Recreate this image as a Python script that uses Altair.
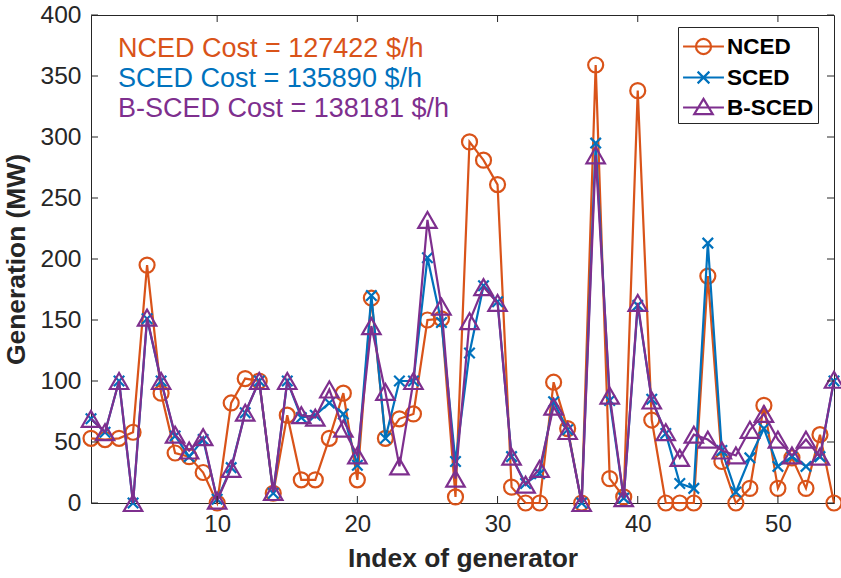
import altair as alt
import pandas as pd

# Generator dispatch (MW) for the three dispatch models, generators 1..54
names = ["NCED", "SCED", "B-SCED"]
colors = ["#D95319", "#0072BD", "#7E2F8E"]
costs = [127422, 135890, 138181]

nced = [53, 52, 53, 58, 195, 90, 41, 38, 25, 0, 82, 102, 100, 8, 72, 19, 19, 53,
        90, 19, 168, 53, 69, 73, 150, 151, 5, 296, 281, 261, 13, 0, 0, 99, 61, 0,
        359, 20, 5, 338, 68, 0, 0, 0, 186, 34, 0, 12, 80, 12, 37, 12, 56, 0]
sced = [69, 58, 100, 0, 151, 100, 55, 38, 52, 3, 29, 74, 100, 8, 100, 70, 72, 82,
        73, 31, 170, 53, 100, 100, 201, 148, 34, 123, 178, 165, 38, 16, 24, 83, 60, 0,
        295, 84, 4, 162, 85, 57, 16, 12, 213, 43, 9, 37, 61, 30, 38, 30, 38, 100]
bsced = [69, 58, 100, 0, 152, 100, 56, 43, 54, 2, 28, 74, 100, 9, 100, 72, 70, 93,
         61, 39, 145, 91, 30, 100, 232, 161, 20, 149, 177, 164, 38, 15, 28, 79, 59, 0,
         285, 88, 4, 164, 84, 58, 37, 56, 52, 43, 39, 60, 73, 52, 39, 52, 38, 101]

x_ticks = [10, 20, 30, 40, 50]
y_ticks = [0, 50, 100, 150, 200, 250, 300, 350, 400]

W, H = 743, 488
FONT = "Liberation Sans"
AXIS_COLOR = "#262626"

series = [nced, sced, bsced]
df = pd.DataFrame(
    [{"index": i + 1, "value": v, "series": n}
     for n, vals in zip(names, series) for i, v in enumerate(vals)]
)

x_scale = alt.Scale(domain=[1, 54], nice=False, zero=False)
y_scale = alt.Scale(domain=[0, 400], nice=False)

x_axis = alt.Axis(values=x_ticks, ticks=False, domain=False, grid=False,
                  labelFontSize=24, labelPadding=9, labelColor=AXIS_COLOR,
                  title="Index of generator", titleFontSize=26.4,
                  titleFontWeight="bold", titleColor=AXIS_COLOR, titlePadding=9)
y_axis = alt.Axis(values=y_ticks, ticks=False, domain=False, grid=False,
                  labelFontSize=24.5, labelPadding=10, labelColor=AXIS_COLOR,
                  title="Generation (MW)", titleFontSize=26.4,
                  titleFontWeight="bold", titleColor=AXIS_COLOR, titlePadding=10)

enc_x = alt.X("index:Q", scale=x_scale, axis=x_axis)
enc_y = alt.Y("value:Q", scale=y_scale, axis=y_axis)

base = alt.Chart(df)

# marker shapes used on the data points
point_shapes = {
    "NCED": ("circle", 225),
    "SCED": ("M-1,-1L1,1M-1,1L1,-1", 110),
    "B-SCED": ("triangle-up", 340),
}

layers = []
for n, c in zip(names, colors):
    sub = base.transform_filter(alt.datum.series == n)
    line = sub.mark_line(color=c, strokeWidth=2.2).encode(x=enc_x, y=enc_y)
    shp, sz = point_shapes[n]
    pts = sub.mark_point(shape=shp, size=sz, filled=False, color=c,
                         strokeWidth=2.2, opacity=1).encode(x=enc_x, y=enc_y)
    layers += [line, pts]

# legend symbols: line segment with the series marker
legend_paths = [
    "M-1.46,0H1.46M0.54,0A0.54,0.54,0,1,1,-0.54,0A0.54,0.54,0,1,1,0.54,0",
    "M-1.46,0H1.46M-0.42,-0.42L0.42,0.42M-0.42,0.42L0.42,-0.42",
    "M-1.46,0H1.46M0,-0.62L0.66,0.48L-0.66,0.48Z",
]
legend_def = alt.Legend(
    title=None, orient="none", legendX=587, legendY=12,
    fillColor="white", strokeColor=AXIS_COLOR, padding=4,
    symbolSize=784, symbolStrokeWidth=2.2, symbolOffset=6,
    labelFont=FONT, labelFontSize=22.5, labelFontWeight="bold",
    labelColor="black", labelOffset=8, rowPadding=3, labelLimit=300,
)
legend_layer = base.transform_filter("false").mark_point(
    filled=False, strokeWidth=2.2, opacity=1
).encode(
    x=enc_x, y=enc_y,
    color=alt.Color("series:N", scale=alt.Scale(domain=names, range=colors),
                    legend=legend_def),
    shape=alt.Shape("series:N", scale=alt.Scale(domain=names, range=legend_paths),
                    legend=legend_def),
)
layers.append(legend_layer)

# inward tick marks on all four sides
xt = pd.DataFrame({"index": x_ticks})
yt = pd.DataFrame({"value": y_ticks})
tick_style = dict(color=AXIS_COLOR, strokeWidth=1)
layers += [
    alt.Chart(yt).mark_rule(**tick_style).encode(y=enc_y, x=alt.value(0), x2=alt.value(7)),
    alt.Chart(yt).mark_rule(**tick_style).encode(y=enc_y, x=alt.value(W - 7), x2=alt.value(W)),
    alt.Chart(xt).mark_rule(**tick_style).encode(x=enc_x, y=alt.value(H), y2=alt.value(H - 7)),
    alt.Chart(xt).mark_rule(**tick_style).encode(x=enc_x, y=alt.value(0), y2=alt.value(7)),
]

# cost annotations
for k, (n, c, cost) in enumerate(zip(names, colors, costs)):
    layers.append(
        alt.Chart(pd.DataFrame({"t": [f"{n} Cost = {cost} $/h"]}))
        .mark_text(align="left", baseline="alphabetic", font=FONT,
                   fontSize=27, color=c)
        .encode(text="t:N", x=alt.value(27), y=alt.value(41.5 + 30 * k))
    )

chart = (
    alt.layer(*layers)
    .properties(
        width=W, height=H,
        autosize=alt.AutoSizeParams(type="none"),
        padding={"left": 91, "top": 15, "right": 7, "bottom": 75},
        background="white",
    )
    .configure(font=FONT)
    .configure_view(stroke=AXIS_COLOR, strokeWidth=1)
)

chart.save("out.html", embed_options={"renderer": "svg", "actions": False})
